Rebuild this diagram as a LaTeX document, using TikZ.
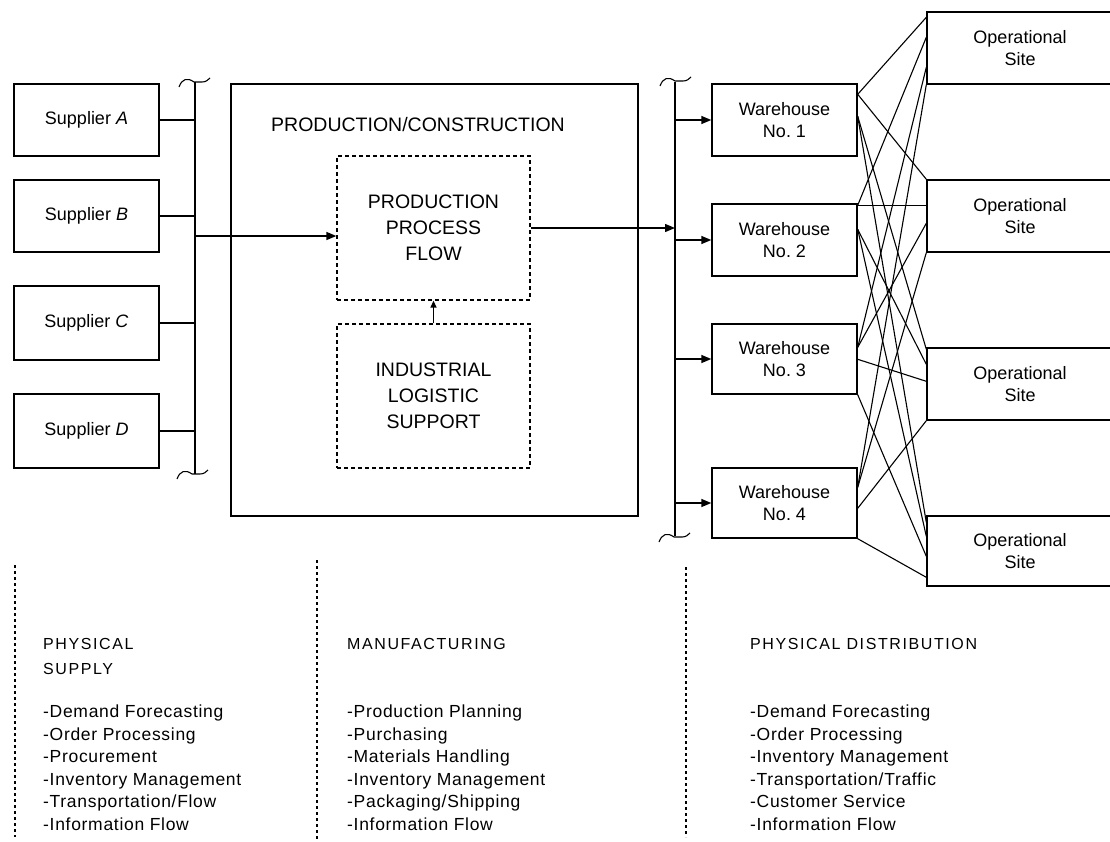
\documentclass[tikz,border=0pt]{standalone}
\usepackage{fontspec}
\setmainfont{Liberation Sans}
\newfontfamily\headfont[LetterSpace=10]{Liberation Sans}
\newfontfamily\listfont[LetterSpace=4]{Liberation Sans}
\usetikzlibrary{arrows.meta,positioning,calc}

% break mark at the ends of a bus
\newcommand{\brkmark}[2]{%
  \draw[line width=1.1pt] ({#1-16},{#2+7}) .. controls ({#1-13},{#2-1}) and ({#1-8},{#2-3}) .. ({#1-1},{#2+2})
    -- ({#1+7},{#2+2}) .. controls ({#1+11},{#2+2}) and ({#1+13},{#2}) .. ({#1+15},{#2-2});}

\begin{document}
\begin{tikzpicture}[x=1pt, y=-1pt,
  unitbox/.style={draw, line width=1.4pt, minimum width=145pt, minimum height=72pt, inner sep=0pt, align=center, font=\fontsize{18}{21.5}\selectfont},
  sitebox/.style={unitbox, minimum width=186pt},
  dotbox/.style={draw, line width=1.3pt, dash pattern=on 4pt off 3pt, minimum width=193pt, minimum height=144pt, inner sep=0pt, align=center, font=\fontsize{19.5}{26}\selectfont},
  wire/.style={line width=1.4pt},
  flow/.style={wire, -{Triangle[length=10pt,width=8pt]}},
  mesh/.style={line width=1.1pt},
  divider/.style={line width=1.4pt, dash pattern=on 3pt off 3pt},
  headtxt/.style={anchor=north west, align=left, inner sep=0pt, font=\headfont\fontsize{16}{25}\selectfont},
  listtxt/.style={anchor=north west, align=left, inner sep=0pt, font=\listfont\fontsize{17.5}{22.5}\selectfont}]
\useasboundingbox (0,0) rectangle (1110,841);

% suppliers
\node[unitbox] (sa) at (86.5,120) {Supplier~\textit{A}};
\node[unitbox] (sb) at (86.5,216) {Supplier~\textit{B}};
\node[unitbox, minimum height=74pt] (sc) at (86.5,323) {Supplier~\textit{C}};
\node[unitbox, minimum height=74pt] (sd) at (86.5,431) {Supplier~\textit{D}};

% production
\node[draw, line width=1.4pt, minimum width=407pt, minimum height=432pt] (prod) at (434.5,300) {};
\node[font=\fontsize{19.5}{24}\selectfont] (prodlbl) at (418,125) {PRODUCTION/CONSTRUCTION};
\node[dotbox] (ppf) at (433.5,228) {PRODUCTION\\PROCESS\\FLOW};
\node[dotbox] (ils) at (433.5,396) {INDUSTRIAL\\LOGISTIC\\SUPPORT};

% warehouses
\node[unitbox] (w1) at (784.5,120) {Warehouse\\No.~1};
\node[unitbox] (w2) at (784.5,240) {Warehouse\\No.~2};
\node[unitbox, minimum height=70pt] (w3) at (784.5,359) {Warehouse\\No.~3};
\node[unitbox, minimum height=70pt] (w4) at (784.5,503) {Warehouse\\No.~4};

% operational sites
\node[sitebox] (s1) at (1020,48) {Operational\\Site};
\node[sitebox] (s2) at (1020,216) {Operational\\Site};
\node[sitebox] (s3) at (1020,384) {Operational\\Site};
\node[sitebox, minimum height=70pt] (s4) at (1020,551) {Operational\\Site};

% buses
\coordinate (lb1) at (195,82);
\coordinate (lb2) at (195,474);
\coordinate (lbin) at (195,236);
\coordinate (rb1) at (675,82);
\coordinate (rb2) at (675,536);
\draw[wire] (lb1) -- (lb2);
\draw[wire] (rb1) -- (rb2);
\brkmark{195}{80}
\brkmark{193}{472}
\brkmark{676}{79}
\brkmark{675}{535}

\draw[wire] (sa.east) -- (sa.east -| lb1);
\draw[wire] (sb.east) -- (sb.east -| lb1);
\draw[wire] (sc.east) -- (sc.east -| lb1);
\draw[wire] (sd.east) -- (sd.east -| lb1);
\draw[flow] (lbin) -- (lbin -| ppf.west);
\draw[flow] (ppf.east) -- (ppf.east -| rb1);
\draw[wire, -{Triangle[length=7pt,width=6pt]}] (ils.north) -- (ppf.south);
\draw[flow] (w1.west -| rb1) -- (w1.west);
\draw[flow] (w2.west -| rb1) -- (w2.west);
\draw[flow] (w3.west -| rb1) -- (w3.west);
\draw[flow] (w4.west -| rb1) -- (w4.west);

% warehouse to site links
\draw[mesh] ($(w1.north east)+(0,11)$) -- ($(s1.north west)+(0,6)$);
\draw[mesh] ($(w1.north east)+(0,11)$) -- (s2.north west);
\draw[mesh] ($(w1.north east)+(0,33)$) -- ($(s3.north west)+(0,2)$);
\draw[mesh] ($(w1.north east)+(0,33)$) -- ($(s4.north west)+(0,7)$);
\draw[mesh] ($(w2.north east)+(0,2)$) -- ($(s1.north west)+(0,26)$);
\draw[mesh] ($(w2.north east)+(0,2)$) -- ($(s2.north west)+(0,26)$);
\draw[mesh] ($(w2.north east)+(0,26)$) -- ($(s3.north west)+(0,17)$);
\draw[mesh] ($(w2.north east)+(0,26)$) -- ($(s4.north west)+(0,21)$);
\draw[mesh] ($(w3.north east)+(0,24)$) -- ($(s1.north west)+(0,56)$);
\draw[mesh] ($(w3.north east)+(0,24)$) -- ($(s2.north west)+(0,44)$);
\draw[mesh] ($(w3.north east)+(0,36)$) -- ($(s3.north west)+(0,34)$);
\draw[mesh] (w3.south east) -- ($(s4.north west)+(0,41)$);
\draw[mesh] ($(w4.north east)+(0,20)$) -- (s1.south west);
\draw[mesh] ($(w4.north east)+(0,20)$) -- (s2.south west);
\draw[mesh] ($(w4.north east)+(0,41)$) -- (s3.south west);
\draw[mesh] (w4.south east) -- ($(s4.north west)+(0,62)$);

% functional areas
\draw[divider] (15,565) -- (15,837);
\draw[divider] (317,560) -- (317,840);
\draw[divider] (686,567) -- (686,837);

\node[headtxt] (h1) at (43,638) {PHYSICAL\\SUPPLY};
\node[listtxt] (l1) at (43,705) {-Demand Forecasting\\-Order Processing\\-Procurement\\-Inventory Management\\-Transportation/Flow\\-Information Flow};
\node[headtxt] (h2) at (347,638) {MANUFACTURING};
\node[listtxt] (l2) at (347,705) {-Production Planning\\-Purchasing\\-Materials Handling\\-Inventory Management\\-Packaging/Shipping\\-Information Flow};
\node[headtxt] (h3) at (750,638) {PHYSICAL DISTRIBUTION};
\node[listtxt] (l3) at (750,705) {-Demand Forecasting\\-Order Processing\\-Inventory Management\\-Transportation/Traffic\\-Customer Service\\-Information Flow};
\end{tikzpicture}
\end{document}
